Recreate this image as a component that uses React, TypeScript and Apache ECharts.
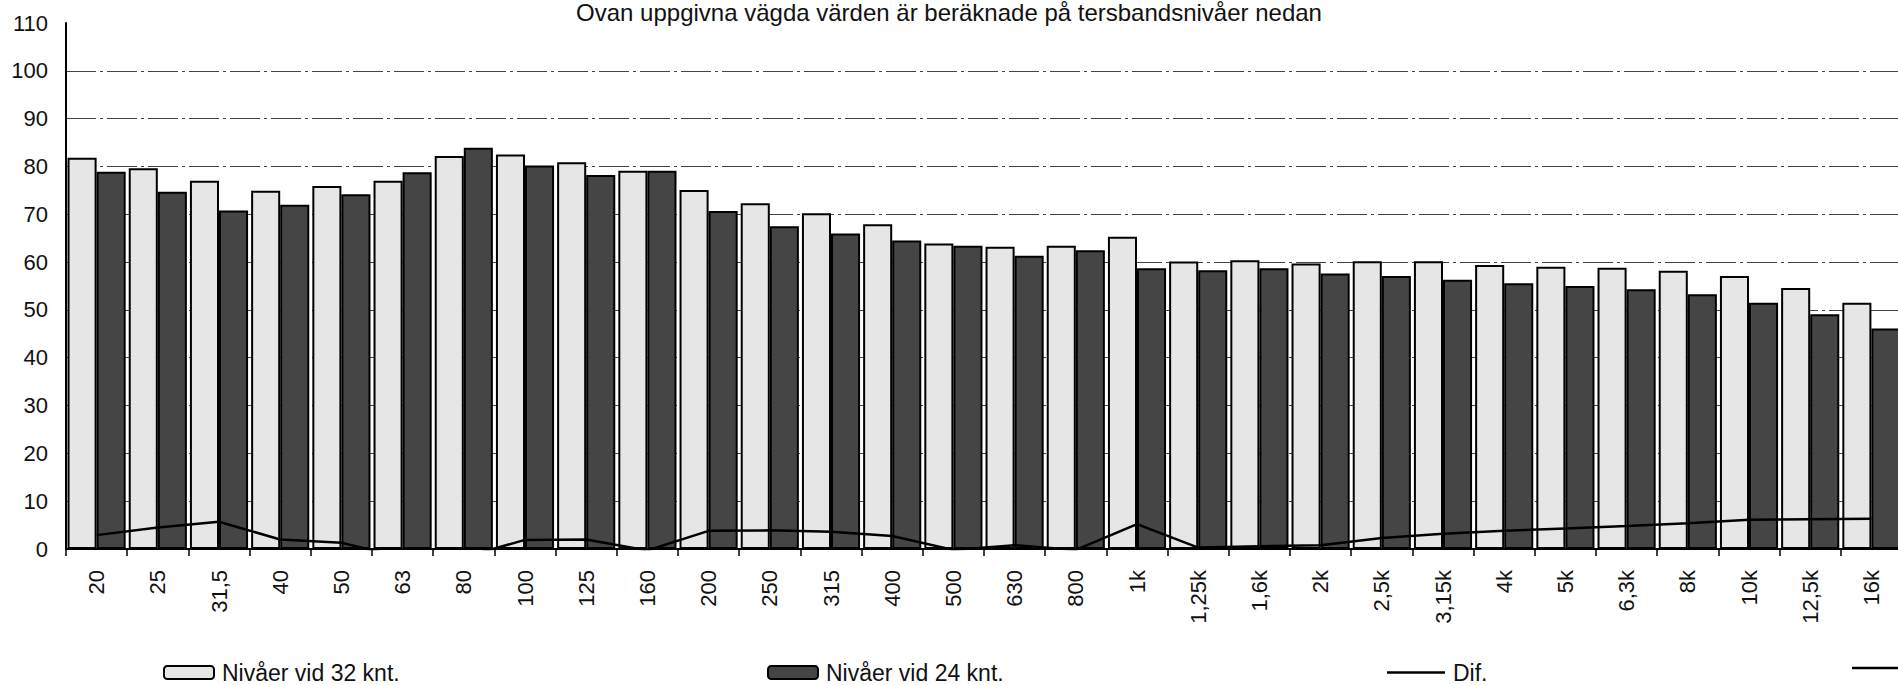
import React, { useEffect, useRef } from "react";
import * as echarts from "echarts";

const categories = ["20", "25", "31,5", "40", "50", "63", "80", "100", "125", "160", "200", "250", "315", "400", "500", "630", "800", "1k", "1,25k", "1,6k", "2k", "2,5k", "3,15k", "4k", "5k", "6,3k", "8k", "10k", "12,5k", "16k"];
const levels32 = [81.8, 79.6, 77.0, 74.9, 75.9, 77.0, 82.2, 82.5, 80.9, 79.1, 75.1, 72.3, 70.2, 67.9, 63.9, 63.2, 63.4, 65.3, 60.1, 60.4, 59.7, 60.2, 60.2, 59.4, 59.0, 58.8, 58.2, 57.1, 54.6, 51.5];
const levels24 = [78.9, 74.7, 70.8, 72.0, 74.2, 78.8, 83.9, 80.2, 78.2, 79.1, 70.7, 67.5, 66.0, 64.5, 63.4, 61.3, 62.5, 58.7, 58.3, 58.7, 57.6, 57.1, 56.3, 55.6, 55.0, 54.3, 53.3, 51.5, 49.1, 46.1];
const dif = [2.9, 4.5, 5.7, 2.0, 1.3, -1.8, -1.7, 1.9, 2.0, -0.3, 3.8, 3.9, 3.6, 2.7, -0.2, 0.8, -0.2, 5.2, 0.3, 0.6, 0.8, 2.3, 3.2, 3.8, 4.3, 4.8, 5.4, 6.1, 6.2, 6.3];

const titleText = "Ovan uppgivna vägda värden är beräknade på tersbandsnivåer nedan";
const name32 = "Nivåer vid 32 knt.";
const name24 = "Nivåer vid 24 knt.";
const nameDif = "Dif.";

const FONT = "'Liberation Sans', Arial, sans-serif";

export default function App() {
  const ref = useRef<HTMLDivElement>(null);
  useEffect(() => {
    if (!ref.current) return;
    const chart = echarts.init(ref.current, null, { renderer: "svg" });
    const legendText = { fontSize: 23, color: "#111", fontFamily: FONT, lineHeight: 22, padding: [0, 0, 0, 3] };
    chart.setOption({
      animation: false,
      backgroundColor: "#fff",
      textStyle: { fontFamily: FONT },
      graphic: [
        {
          type: "text",
          x: 949,
          y: 12,
          style: { text: titleText, fontSize: 24, fontFamily: FONT, fill: "#111", textAlign: "center", textVerticalAlign: "middle" },
        },
        {
          type: "line",
          shape: { x1: 1852, y1: 668, x2: 1910, y2: 668 },
          style: { stroke: "#000", lineWidth: 2.5 },
        },
      ],
      grid: { left: 66, right: 8, top: 23, bottom: 136, containLabel: false },
      legend: [
        { data: [name32], left: 163, top: 661, padding: 0, itemWidth: 50, itemHeight: 13, textStyle: legendText },
        { data: [name24], left: 767, top: 661, padding: 0, itemWidth: 50, itemHeight: 13, textStyle: legendText },
        { data: [{ name: nameDif, icon: "rect" }], left: 1387, top: 661, padding: 0, itemWidth: 58, itemHeight: 2.5, textStyle: legendText },
      ],
      xAxis: {
        type: "category",
        data: categories,
        boundaryGap: true,
        axisLine: { show: true, lineStyle: { color: "#000", width: 2 } },
        axisTick: { show: true, length: 7, lineStyle: { color: "#000", width: 1.5 } },
        axisLabel: { rotate: 90, fontSize: 22, color: "#111", margin: 21, fontFamily: FONT, interval: 0 },
        splitLine: { show: false },
      },
      yAxis: {
        type: "value",
        min: 0,
        max: 110,
        interval: 10,
        axisLine: { show: true, lineStyle: { color: "#000", width: 2 } },
        axisTick: { show: false },
        axisLabel: { fontSize: 22, color: "#111", margin: 18, fontFamily: FONT },
        splitLine: { show: true, showMinLine: false, showMaxLine: false, lineStyle: { color: "#444", width: 1.2, type: [30, 4, 3, 4] } },
      },
      series: [
        {
          name: name32,
          type: "bar",
          data: levels32,
          barGap: "0%",
          barCategoryGap: "5%",
          itemStyle: { color: "#e6e6e6", borderColor: "#000", borderWidth: 2 },
        },
        {
          name: name24,
          type: "bar",
          data: levels24,
          itemStyle: { color: "#454545", borderColor: "#000", borderWidth: 2 },
        },
        {
          name: nameDif,
          type: "line",
          data: dif,
          symbol: "none",
          color: "#000",
          lineStyle: { color: "#000", width: 2.5 },
          clip: true,
          z: 5,
        },
      ],
    });
    return () => chart.dispose();
  }, []);
  return (
    <div style={{ position: "absolute", left: 0, top: 0, width: 1898, height: 685, overflow: "hidden", background: "#fff" }}>
      <div ref={ref} style={{ width: 1910, height: 685 }} />
    </div>
  );
}
